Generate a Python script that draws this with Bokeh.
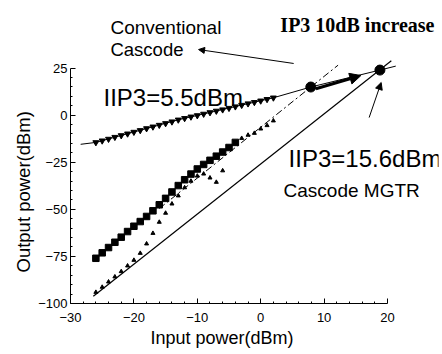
from bokeh.plotting import figure
from bokeh.models import Range1d, FixedTicker, Label, Arrow, NormalHead, Title
from bokeh.embed import file_html
from bokeh.resources import INLINE

# ---------------- data ----------------
x_ticks = [-30, -20, -10, 0, 10, 20]
y_ticks = [-100, -75, -50, -25, 0, 25]

# Fundamental output (inverted triangles)
fund_x = [-26, -25, -24, -23, -22, -21, -20, -19, -18, -17, -16, -15, -14, -13,
          -12, -11, -10, -9, -8, -7, -6, -5, -4, -3, -2, -1, 0, 1, 2]
fund_y = [-14.5, -13.6, -12.7, -11.7, -10.8, -9.9, -9.0, -8.1, -7.1, -6.2, -5.3,
          -4.4, -3.5, -2.5, -1.7, -0.9, -0.2, 0.6, 1.4, 2.2, 2.9, 3.7, 4.5, 5.3,
          6.1, 6.8, 7.6, 8.4, 9.2]

# fundamental extrapolation line
fund_line_x = [-28.4, -26, -13, 2, 7.9, 18.8, 21.3]
fund_line_y = [-15.5, -14.5, -2.5, 9.2, 14.9, 23.9, 26.0]

# Conventional cascode IM3 (squares)
conv_im3_x = [-26, -25, -24, -23, -22, -21, -20, -19, -18, -17, -16, -15, -14,
              -13, -12, -11, -10, -9, -8, -7, -6, -5, -4]
conv_im3_y = [-76.0, -73.1, -70.3, -67.5, -64.8, -61.8, -59.0, -56.5, -53.8,
              -50.8, -47.6, -44.2, -40.8, -37.4, -34.3, -31.3, -28.6, -26.2,
              -24.0, -21.8, -19.6, -17.2, -14.5]

# Cascode MGTR IM3 (small triangles)
mgtr_im3_x = [-26, -25, -24, -23, -22, -21, -20, -19, -18, -17, -16, -15, -14,
              -13, -12, -11, -10, -9, -8, -7, -6, -3, -2, -1, 0, 1, 2]
mgtr_im3_y = [-94.0, -91.3, -88.5, -85.8, -83.0, -80.0, -77.0, -73.3, -68.3,
              -62.7, -56.8, -52.0, -47.1, -42.8, -38.5, -35.0, -32.3, -31.2,
              -33.3, -35.6, -29.5, -12.3, -10.6, -9.6, -7.3, -5.5, -3.0]

# IM3 extrapolation lines
conv_ext_x = [-16, 12.2]
conv_ext_y = [-49.6, 26.5]
mgtr_ext_x = [-26.4, 20.6]
mgtr_ext_y = [-96.2, 28.8]

# IIP3 intercept points
ip3_x = [7.9, 18.8]
ip3_y = [14.9, 23.9]

SANS = "Liberation Sans"

p = figure(width=440, height=350, output_backend="svg", toolbar_location=None,
           x_range=Range1d(-30, 28.04), y_range=Range1d(-100, 60.83),
           min_border_left=70, min_border_right=2, min_border_top=0,
           min_border_bottom=47)
p.outline_line_color = None
p.xgrid.visible = False
p.ygrid.visible = False
p.background_fill_color = "white"

p.xaxis.bounds = (-30, 20)
p.yaxis.bounds = (-100, 25)
p.xaxis.ticker = FixedTicker(ticks=x_ticks, minor_ticks=[-28, -26, -24, -22, -18, -16, -14, -12, -8, -6, -4, -2, 2, 4, 6, 8, 12, 14, 16, 18])
p.yaxis.ticker = FixedTicker(ticks=y_ticks, minor_ticks=[-95, -90, -85, -80, -70, -65, -60, -55, -45, -40, -35, -30, -20, -15, -10, -5, 5, 10, 15, 20])
for ax in (p.xaxis[0], p.yaxis[0]):
    ax.axis_line_color = "black"
    ax.axis_line_width = 1
    ax.major_tick_in = 5
    ax.major_tick_out = 0
    ax.minor_tick_in = 2
    ax.minor_tick_out = 0
    ax.major_tick_line_color = "black"
    ax.minor_tick_line_color = "black"
    ax.major_label_text_font = SANS
    ax.major_label_text_font_size = "13px"
    ax.major_label_text_color = "black"
p.xaxis.major_label_standoff = 9
p.yaxis.major_label_standoff = 3

# axis titles as side titles (so they can be shifted along the axis)
p.add_layout(Title(text="Input power(dBm)", align="left", offset=80,
                   text_font=SANS, text_font_size="18px", text_color="black",
                   text_font_style="normal", standoff=2), "below")
p.add_layout(Title(text="Output power(dBm)", align="left", offset=31,
                   text_font=SANS, text_font_size="18.5px", text_color="black",
                   text_font_style="normal", standoff=4), "left")

# lines
p.line(fund_line_x, fund_line_y, line_color="black", line_width=1)
p.line(mgtr_ext_x, mgtr_ext_y, line_color="black", line_width=1.2)
p.line(conv_ext_x, conv_ext_y, line_color="black", line_width=1, line_dash="7 3 2 3")

# markers
p.scatter(fund_x, fund_y, marker="inverted_triangle", size=6, color="black")
p.scatter(conv_im3_x, conv_im3_y, marker="square", size=6.5, color="black")
p.scatter(mgtr_im3_x, mgtr_im3_y, marker="triangle", size=4, color="black")
p.scatter(ip3_x, ip3_y, marker="circle", size=10, color="black")

# arrows
p.add_layout(Arrow(x_start=8.7, y_start=14.0, x_end=15.8, y_end=21.0,
                   line_width=3, line_color="black",
                   end=NormalHead(size=11, fill_color="black", line_color="black")))
p.add_layout(Arrow(x_start=17.1, y_start=-1.3, x_end=19.0, y_end=17.3,
                   line_width=1, line_color="black",
                   end=NormalHead(size=7, fill_color="black", line_color="black")))
p.add_layout(Arrow(x_start=5.2, y_start=27.4, x_end=-9.8, y_end=34.8,
                   line_width=1, line_color="black",
                   end=NormalHead(size=6, fill_color="black", line_color="black")))

# texts
def lab(x, y, t, size, font=SANS, style="normal"):
    p.add_layout(Label(x=x, y=y, text=t, text_font=font, text_font_size=size,
                       text_font_style=style, text_color="black",
                       text_baseline="alphabetic", text_align="left"))

lab(-23.7, 46.5, "Conventional", "19px")
lab(-23.7, 34.8, "Cascode", "18.5px")
lab(3.1, 47.6, "IP3 10dB increase", "20px", font="Liberation Serif", style="bold")
lab(-24.8, 9.3, "IIP3=5.5dBm", "24px")
lab(4.4, -23.0, "IIP3=15.6dBm", "24px")
lab(3.6, -40.0, "Cascode MGTR", "19px")

open("out.html", "w").write(file_html(p, INLINE))
